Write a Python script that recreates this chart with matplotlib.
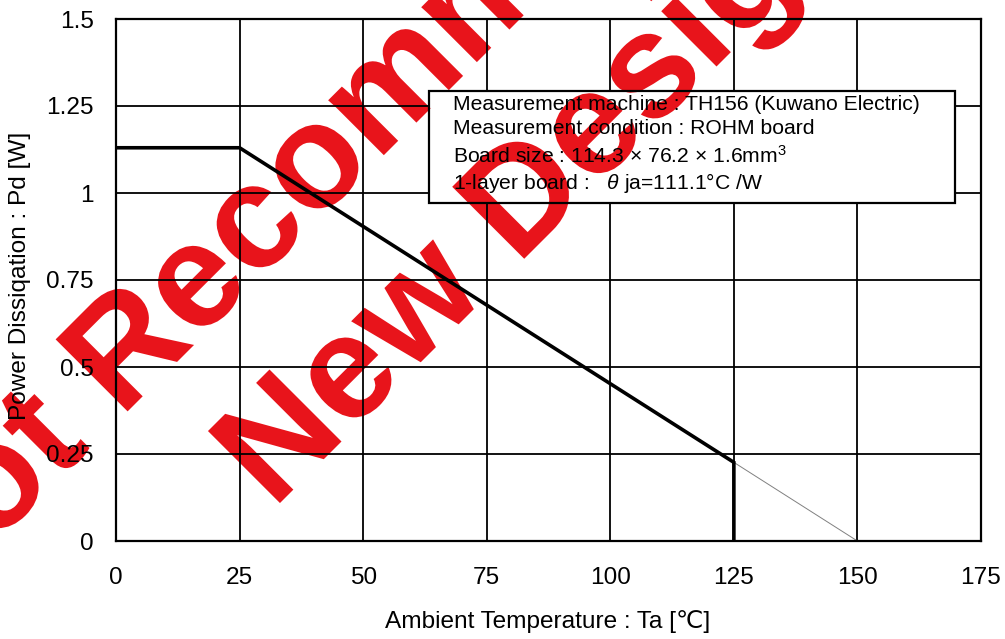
import matplotlib
matplotlib.use("Agg")
import matplotlib.pyplot as plt
from matplotlib.textpath import TextPath
from matplotlib.patches import PathPatch, Rectangle
from matplotlib.font_manager import FontProperties
from matplotlib.transforms import Affine2D

plt.rcParams["font.family"] = ["Liberation Sans", "DejaVu Sans"]
plt.rcParams["mathtext.fontset"] = "custom"
plt.rcParams["mathtext.rm"] = "Liberation Sans"
plt.rcParams["mathtext.it"] = "Liberation Sans:italic"

# derating curve
temp = [0, 25, 125, 125]
pd_w = [1.13, 1.13, 0.226, 0]
# thin extension to Tj max
ext_temp = [125, 150]
ext_pd = [0.226, 0]

x_ticks = [0, 25, 50, 75, 100, 125, 150, 175]
y_ticks = [0, 0.25, 0.5, 0.75, 1, 1.25, 1.5]
y_labels = ["0", "0.25", "0.5", "0.75", "1", "1.25", "1.5"]

info_lines = [
    "Measurement machine : TH156 (Kuwano Electric)",
    "Measurement condition : ROHM board",
    "Board size : 114.3 \u00d7 76.2 \u00d7 1.6mm$^3$",
    "1-layer board :   $\\it{\u03b8}$ ja=111.1\u00b0C /W",
]
watermark = ["Not Recommended for", "New Designs"]

W, H = 1005, 639
fig = plt.figure(figsize=(W / 100, H / 100), dpi=100)
ax = fig.add_axes([116 / W, 98 / H, 865 / W, 522 / H])
ax.set_facecolor("none")

wm_color = "#e8141b"
wm_font = FontProperties(family="Liberation Sans", weight="bold")
wm_centres = [(481, 58), (600, 183)]


def mark_patch(text, cx, cy):
    tp = TextPath((0, 0), text, size=148, prop=wm_font)
    ext = tp.get_extents()
    tr = (Affine2D().translate(-(ext.x0 + ext.x1) / 2, 0)
          .rotate_deg(45).translate(cx, H - cy))
    return PathPatch(tp, transform=tr, fc=wm_color, ec="none", lw=0)


for s, (cx, cy) in zip(watermark, wm_centres):
    p = mark_patch(s, cx, cy)
    p.set_zorder(-1)
    fig.add_artist(p)

ax.plot(temp, pd_w, color="black", lw=2.6, zorder=2.5, solid_joinstyle="miter")
ax.plot(ext_temp, ext_pd, color="#808080", lw=0.7, zorder=2.4)

ax.set_xlim(0, 175)
ax.set_ylim(0, 1.5)
ax.set_xticks(x_ticks)
ax.set_yticks(y_ticks)
ax.set_yticklabels(y_labels)
ax.grid(True, color="black", lw=1.3)
ax.tick_params(length=0, labelsize=17.6)
ax.tick_params(axis="y", pad=16)
ax.tick_params(axis="x", pad=19)
for sp in ax.spines.values():
    sp.set_linewidth(1.6)

# info box
bx0, bx1, by0, by1 = 63.3, 169.7, 0.971, 1.293
box = Rectangle((bx0, by0), bx1 - bx0, by1 - by0, fc="white", ec="none", zorder=3)
ax.add_patch(box)
for s, (cx, cy) in zip(watermark, wm_centres):
    p = mark_patch(s, cx, cy)
    p.set_zorder(3.2)
    ax.add_artist(p)
    p.set_clip_path(box)
ax.add_patch(Rectangle((bx0, by0), bx1 - bx0, by1 - by0, fc="none",
                       ec="black", lw=1.6, zorder=3.4))
line_y = [1.253, 1.184, 1.106, 1.029]
for s, y in zip(info_lines, line_y):
    ax.text(68.2, y, s, fontsize=15.2, va="center", ha="left", zorder=4)

fig.text(548 / W, 1 - 622 / H, "Ambient Temperature : Ta [\u2103]",
         fontsize=17.6, ha="center", va="center")
fig.text(20 / W, 1 - 276 / H, "Power Dissiqation : Pd [W]",
         fontsize=17.6, ha="center", va="center", rotation=90)

fig.savefig("out.png", dpi=100)
